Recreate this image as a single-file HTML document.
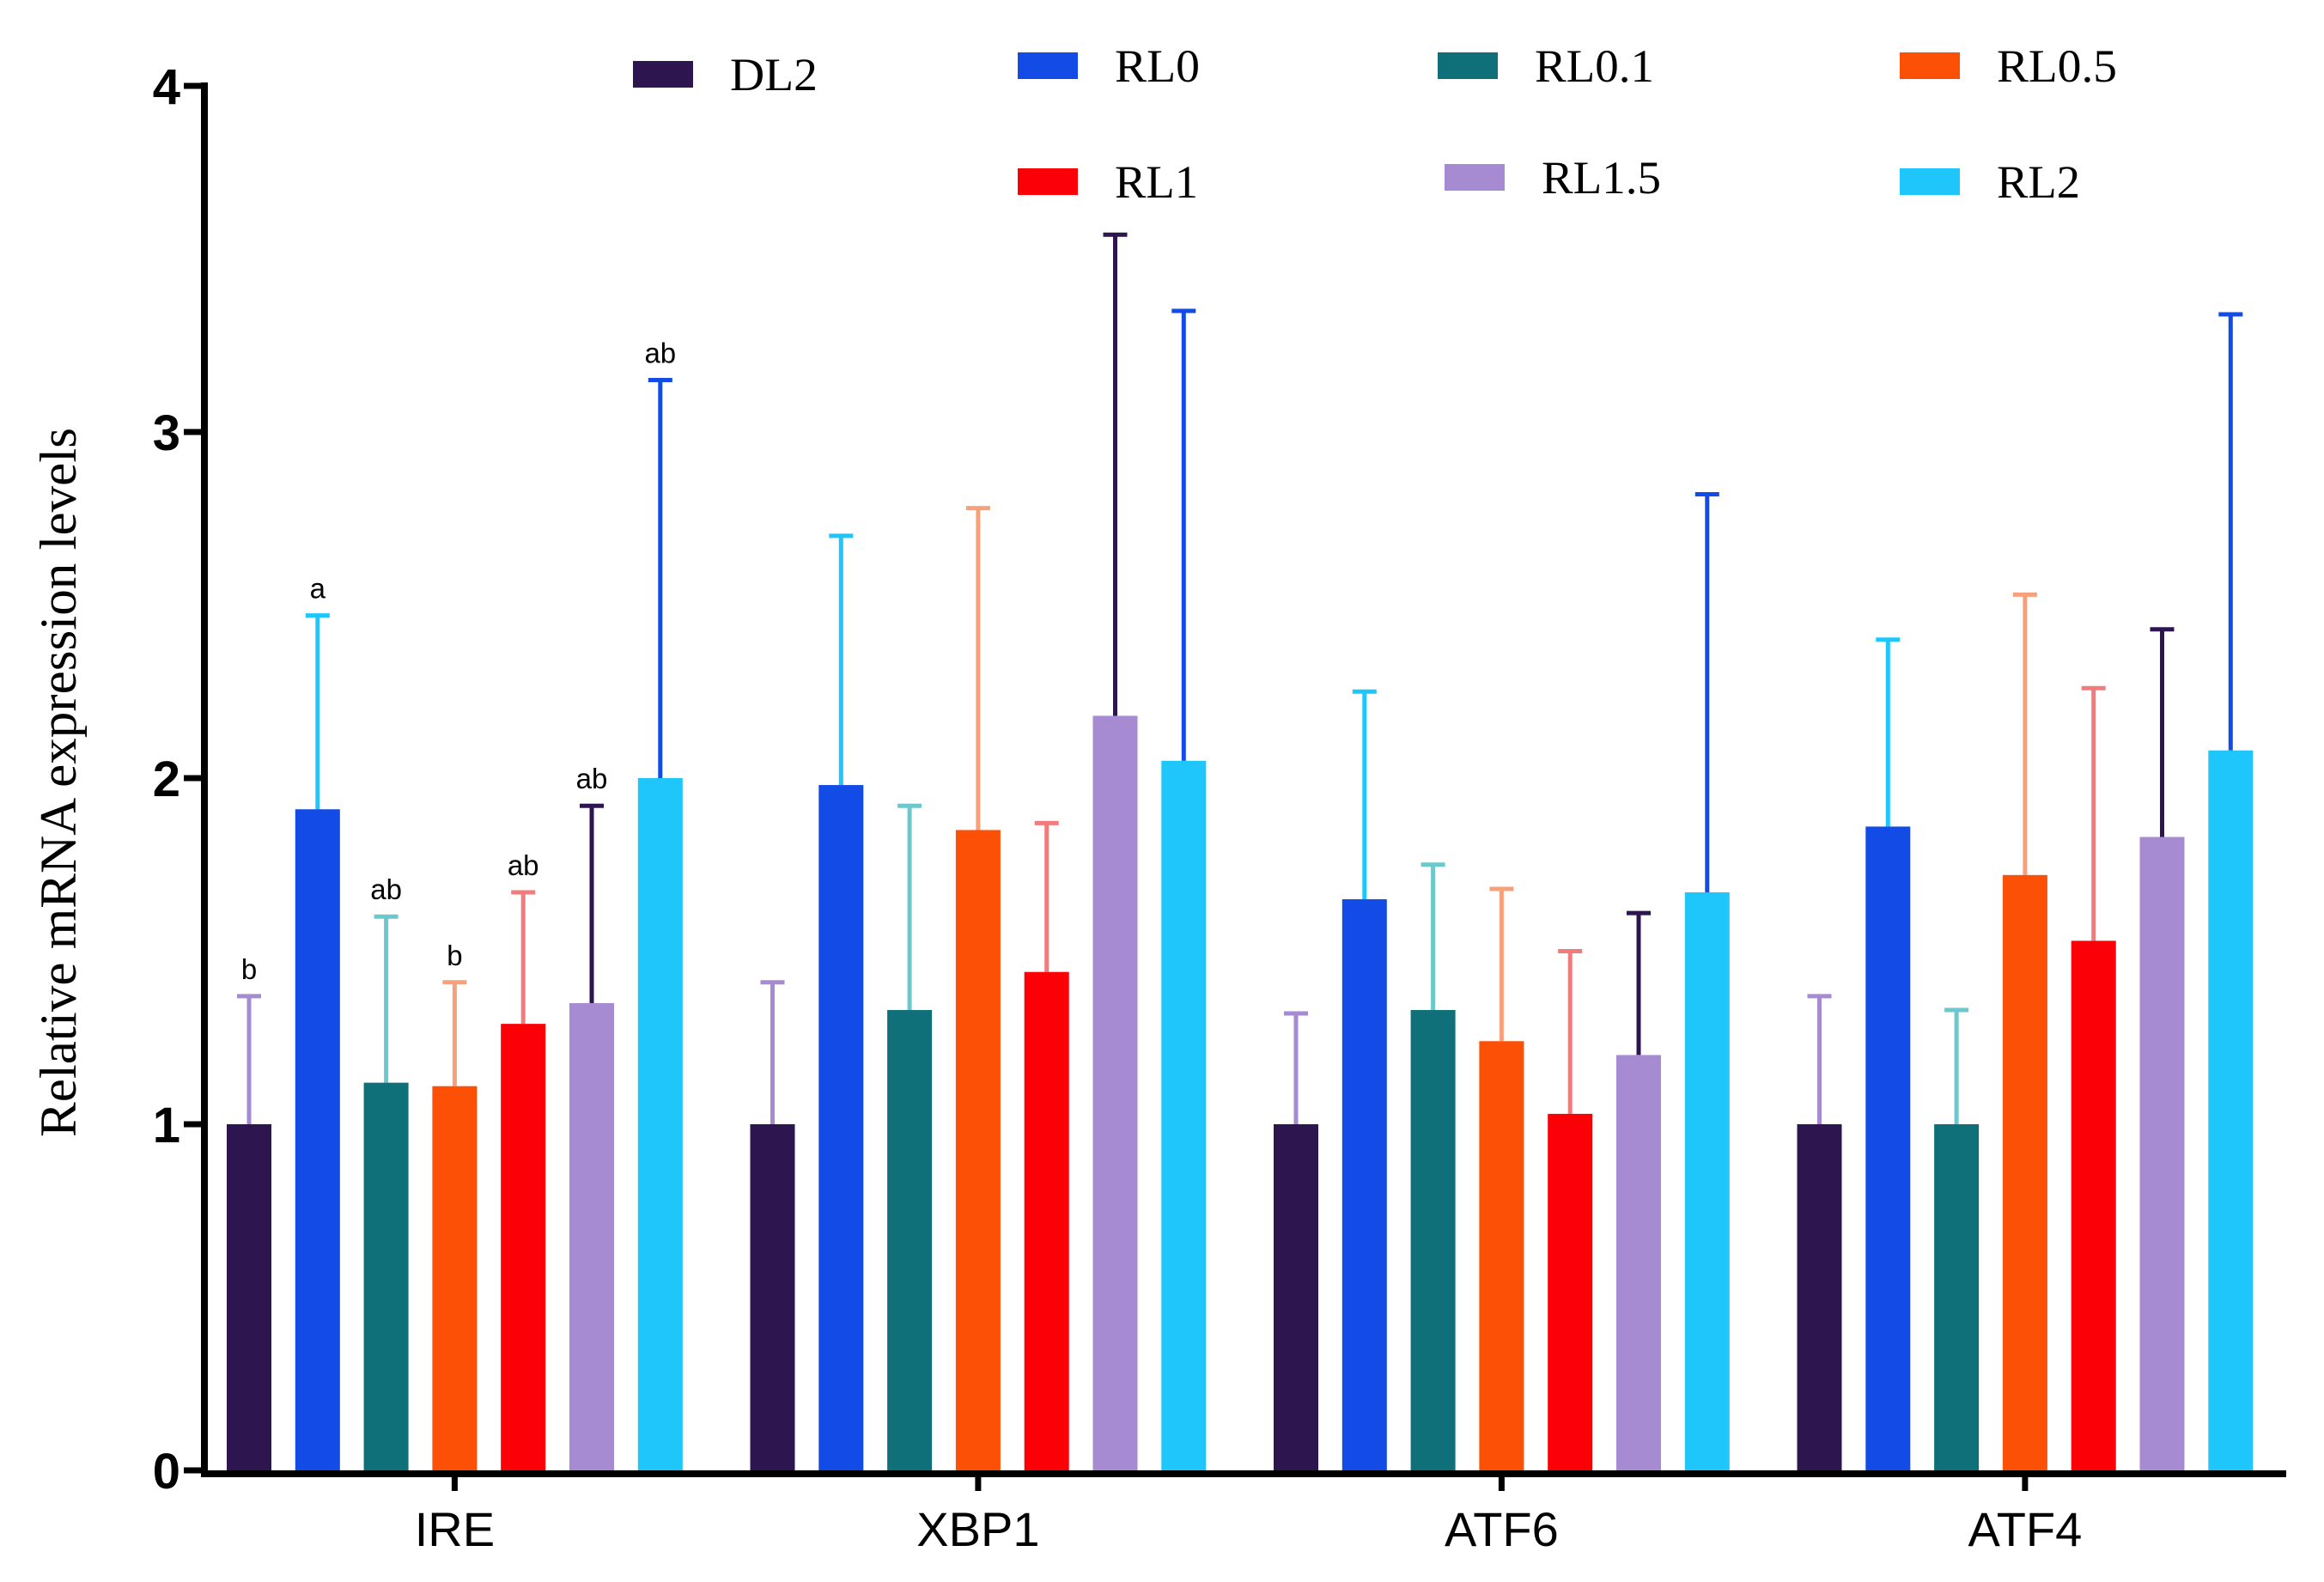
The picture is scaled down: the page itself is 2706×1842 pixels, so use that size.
<!DOCTYPE html>
<html><head><meta charset="utf-8"><style>
html,body{margin:0;padding:0;background:#fff}
svg{display:block}
</style></head><body>
<svg id="chart" width="2706" height="1842" viewBox="0 0 2706 1842" xmlns="http://www.w3.org/2000/svg">
<g id="legend"></g>
<g id="bars"></g>
<g id="axes"></g>
<text transform="translate(88,911) rotate(-90)" text-anchor="middle" font-family="Liberation Serif, serif" font-size="60" textLength="826" lengthAdjust="spacingAndGlyphs">Relative mRNA expression levels</text>
</svg>
<script>
const categories = ["IRE","XBP1","ATF6","ATF4"];
const seriesNames = ["DL2","RL0","RL0.1","RL0.5","RL1","RL1.5","RL2"];
const seriesColors = ["#2d1550","#124be5","#10707a","#fb5006","#fb0006","#a68bd3","#1ec6fc"];
const errColors = ["#a68bd3","#1ec6fc","#6cc8cc","#f8a07a","#f27b7b","#2d1550","#124be5"];
const valsDL2 = [1,1,1,1];
const valsRL0 = [1.91,1.98,1.65,1.86];
const valsRL01 = [1.12,1.33,1.33,1.0];
const valsRL05 = [1.11,1.85,1.24,1.72];
const valsRL1 = [1.29,1.44,1.03,1.53];
const valsRL15 = [1.35,2.18,1.20,1.83];
const valsRL2 = [2.0,2.05,1.67,2.08];
const errDL2 = [1.37,1.41,1.32,1.37];
const errRL0 = [2.47,2.70,2.25,2.40];
const errRL01 = [1.60,1.92,1.75,1.33];
const errRL05 = [1.41,2.78,1.68,2.53];
const errRL1 = [1.67,1.87,1.50,2.26];
const errRL15 = [1.92,3.57,1.61,2.43];
const errRL2 = [3.15,3.35,2.82,3.34];
const ireLetters = ["b","a","ab","b","ab","ab","ab"];
const yTicks = [0,1,2,3,4];

const vals=[valsDL2,valsRL0,valsRL01,valsRL05,valsRL1,valsRL15,valsRL2];
const errs=[errDL2,errRL0,errRL01,errRL05,errRL1,errRL15,errRL2];
const NS="http://www.w3.org/2000/svg";
const y0=1712, yTop=100, yMax=4;
const yS=v=>y0-(y0-yTop)*v/yMax;
const groupStart=264, groupPitch=609.5, barPitch=79.8, barW=52;
const xBar=(g,s)=>groupStart+g*groupPitch+s*barPitch;
function mk(tag,attrs,parent){const e=document.createElementNS(NS,tag);for(const k in attrs)e.setAttribute(k,attrs[k]);parent.appendChild(e);return e;}
const bars=document.getElementById('bars'), axes=document.getElementById('axes'), legend=document.getElementById('legend');
categories.forEach((c,g)=>{
  seriesNames.forEach((s,i)=>{
    const x=xBar(g,i), v=vals[i][g], e=errs[i][g], cx=x+barW/2;
    const el=mk('line',{x1:cx,x2:cx,y1:yS(v),y2:yS(e),stroke:errColors[i],'stroke-width':5},bars);
    
    
    const cap=mk('line',{x1:cx-14,x2:cx+14,y1:yS(e),y2:yS(e),stroke:errColors[i],'stroke-width':5},bars);
    
    
    const r=mk('rect',{x:x,y:yS(v),width:barW,height:y0-yS(v),fill:seriesColors[i]},bars);
    
    
    if(g===0){
      const t=mk('text',{x:cx,y:yS(e)-20,'text-anchor':'middle','font-family':'Liberation Sans, sans-serif','font-size':33},bars);
      t.textContent=ireLetters[i];
      
      
    }
  });
  const mid=xBar(g,3)+barW/2;
  const tk=mk('line',{x1:mid,x2:mid,y1:y0,y2:y0+24,stroke:'#000','stroke-width':7},axes);
  
  
  const tl=mk('text',{x:mid,y:1800,'text-anchor':'middle','font-family':'Liberation Sans, sans-serif','font-size':56},axes);
  tl.textContent=c;
  
  
});
const xa=mk('line',{x1:234,x2:2662,y1:y0+4,y2:y0+4,stroke:'#000','stroke-width':8},axes);


const ya=mk('line',{x1:238,x2:238,y1:yTop-4,y2:y0+8,stroke:'#000','stroke-width':8},axes);


yTicks.forEach(v=>{
  const t=mk('line',{x1:214,x2:238,y1:yS(v),y2:yS(v),stroke:'#000','stroke-width':7},axes);
  
  
  const l=mk('text',{x:210,y:yS(v)+21,'text-anchor':'end','font-family':'Liberation Sans, sans-serif','font-size':58,'font-weight':'bold'},axes);
  l.textContent=v;
  
  
});
const legPos=[[737,71],[1185,61],[1674,61],[2212,61],[1185,196],[1682,191],[2212,196]];
const legLen=[102,99,139,140,97,139,97];
seriesNames.forEach((s,i)=>{
  const [x,y]=legPos[i];
  const g=mk('g',{},legend);
  
  
  mk('rect',{x:x,y:y,width:70,height:31,fill:seriesColors[i]},g);
  const t=mk('text',{x:x+113,y:y+34,'font-family':'Liberation Serif, serif','font-size':54,textLength:legLen[i],lengthAdjust:'spacingAndGlyphs'},g);
  t.textContent=s;
});
</script>
</body></html>
